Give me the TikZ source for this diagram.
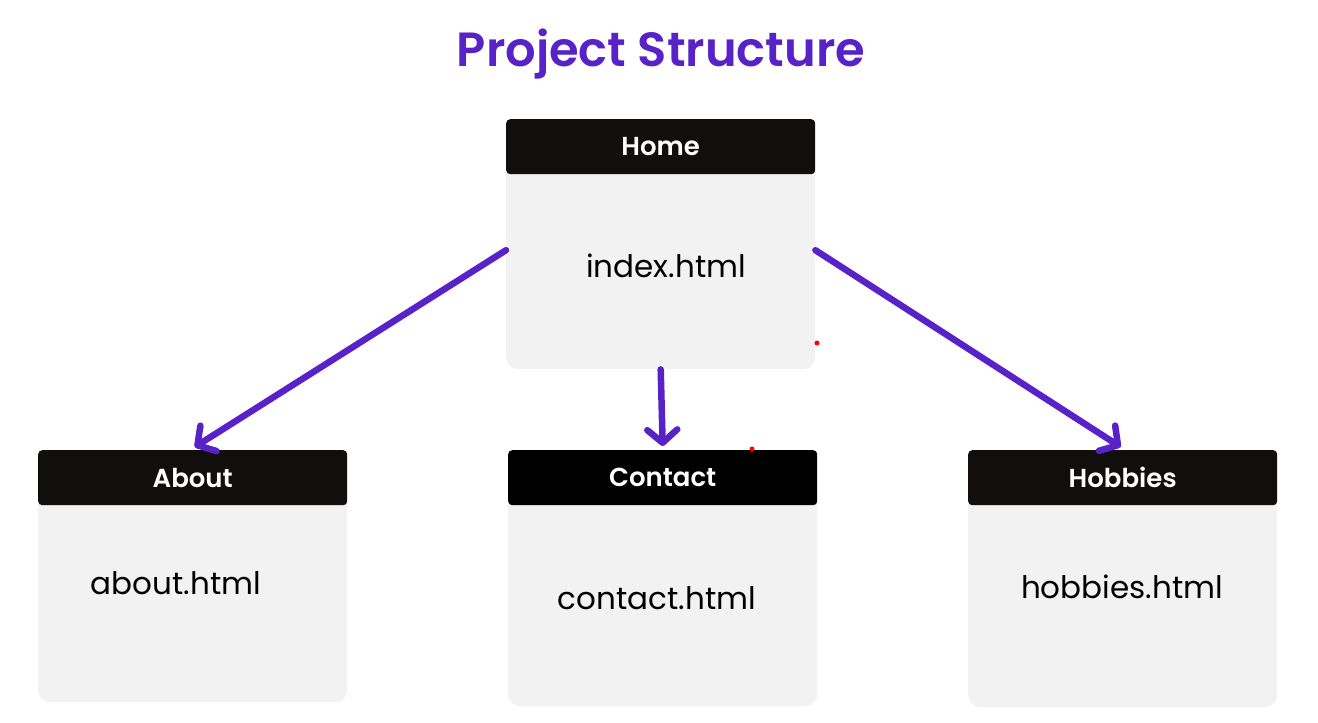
\documentclass[tikz,border=0pt]{standalone}
\usepackage{fontspec}
\setmainfont{Poppins}[BoldFont={Poppins SemiBold}]
\usetikzlibrary{arrows.meta}
\definecolor{purp}{HTML}{5822C8}
\definecolor{hdr}{HTML}{110F0E}
\definecolor{bodyg}{HTML}{F2F2F2}
\tikzset{
  card/.style={fill=bodyg, rounded corners=12pt, minimum width=309pt, inner sep=0pt, draw=none},
  cardhead/.style={fill=hdr, rounded corners=4pt, minimum width=309pt, minimum height=55pt, inner sep=0pt, text=white, font=\fontsize{26}{30}\selectfont\bfseries},
  filetext/.style={font=\fontsize{31}{36}\selectfont, text=black, inner sep=0pt},
  link/.style={draw=purp, line width=6.5pt, line cap=round, -{Straight Barb[length=13pt, width=30pt, round, line width=6.5pt]}},
  dot/.style={circle, fill=red, inner sep=0pt, minimum size=5pt}
}
\begin{document}
\begin{tikzpicture}[x=1pt, y=-1pt]
\useasboundingbox (0,0) rectangle (1318,723);
\node[font=\fontsize{48}{56}\selectfont\bfseries, text=purp] (title) at (661,54) {Project Structure};

% Home
\node[card, minimum height=250pt, anchor=north west] (home) at (506,119) {};
\node[cardhead, anchor=north] (homeh) at (home.north) {Home};
\node[filetext] (homef) at (666,266) {index.html};

% About
\node[card, minimum height=252pt, anchor=north west] (about) at (38,450) {};
\node[cardhead, anchor=north] (abouth) at (about.north) {About};
\node[filetext] (aboutf) at (176,583) {about.html};

% Contact
\node[card, minimum height=256pt, anchor=north west] (contact) at (508,450) {};
\node[cardhead, fill=black, anchor=north] (contacth) at (contact.north) {Contact};
\node[filetext] (contactf) at (657,598) {contact.html};

% Hobbies
\node[card, minimum height=257pt, anchor=north west] (hobbies) at (968,450) {};
\node[cardhead, anchor=north] (hobbiesh) at (hobbies.north) {Hobbies};
\node[filetext] (hobbiesf) at (1122,587) {hobbies.html};

% red dots
\node[dot] (d1) at (817,343) {};
\node[dot] (d2) at (752,449) {};

% arrows
\draw[link] ([yshift=-6pt]home.west) -- ([xshift=2pt,yshift=3pt]about.north);
\draw[link] (home.south) -- ([yshift=4pt]contact.north);
\draw[link] ([yshift=-6pt]home.east) -- ([xshift=-2pt,yshift=3pt]hobbies.north);
\end{tikzpicture}
\end{document}
